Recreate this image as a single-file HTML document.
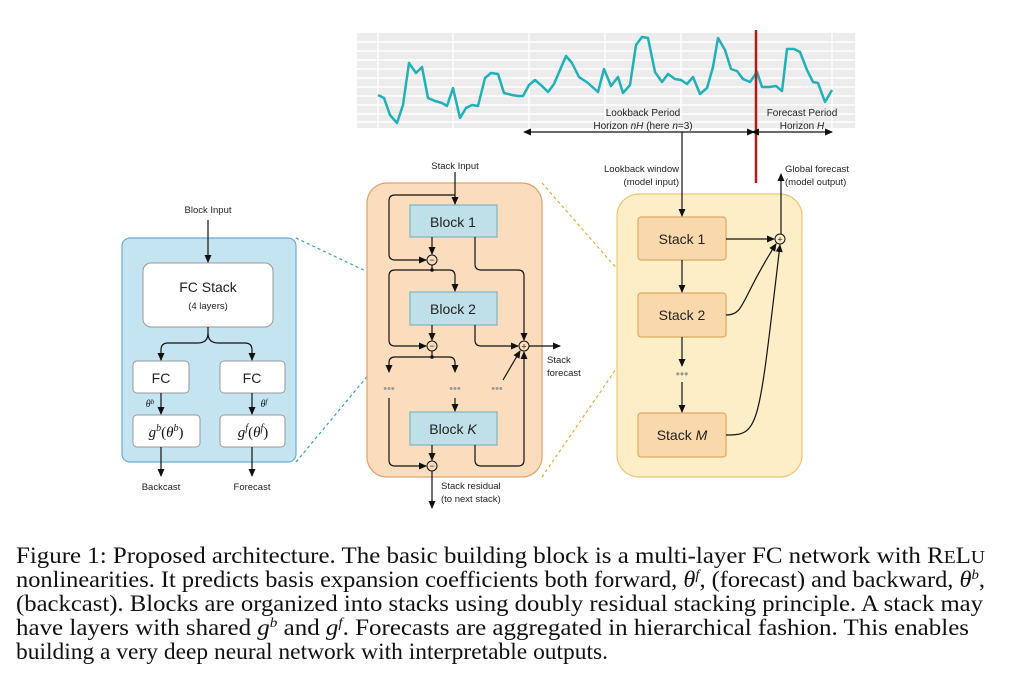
<!DOCTYPE html>
<html><head><meta charset="utf-8"><style>
html,body{margin:0;padding:0;background:#fff;}
svg{display:block;}
.s{font-family:"Liberation Sans",sans-serif;fill:#222;}
.c{font-family:"Liberation Serif",serif;font-size:23px;fill:#111;}
</style></head><body>
<svg width="1009" height="681" viewBox="0 0 1009 681" xmlns="http://www.w3.org/2000/svg">
<defs>
<marker id="a" markerWidth="8" markerHeight="8" refX="7" refY="4" orient="auto" markerUnits="userSpaceOnUse"><path d="M0,0.5 L8,4 L0,7.5 z" fill="#111"/></marker>
<marker id="as" markerWidth="8" markerHeight="8" refX="1" refY="4" orient="auto-start-reverse" markerUnits="userSpaceOnUse"><path d="M0,0.5 L8,4 L0,7.5 z" fill="#111"/></marker>
</defs>
<rect x="357" y="33" width="498" height="95" fill="#ececec"/>
<g stroke="#fff" stroke-width="1.5">
<line x1="357" y1="42" x2="855" y2="42"/><line x1="357" y1="51" x2="855" y2="51"/><line x1="357" y1="60" x2="855" y2="60"/><line x1="357" y1="69" x2="855" y2="69"/><line x1="357" y1="78" x2="855" y2="78"/><line x1="357" y1="87" x2="855" y2="87"/><line x1="357" y1="96" x2="855" y2="96"/><line x1="357" y1="105" x2="855" y2="105"/><line x1="357" y1="114" x2="855" y2="114"/><line x1="357" y1="122" x2="855" y2="122"/>
<line x1="378" y1="33" x2="378" y2="128"/><line x1="453" y1="33" x2="453" y2="128"/><line x1="529" y1="33" x2="529" y2="128"/><line x1="605" y1="33" x2="605" y2="128"/><line x1="681" y1="33" x2="681" y2="128"/><line x1="832" y1="33" x2="832" y2="128"/>
</g>
<polyline fill="none" stroke="#1fb0b8" stroke-width="2.5" stroke-linejoin="round" points="378,95 384,98 390,115 397,123 403,105 409,63 416,73 422,67 428,98 435,101 442,103 447,106 453,88 460,118 466,108 472,105 478,106 485,78 491,73 498,74 504,93 512,95 518,96 523,96 529,85 535,80 542,86 548,92 554,84 566,56 572,63 579,77 588,83 598,92 604,69 611,86 618,77 623,93 630,85 636,45 642,37 648,38 655,72 662,82 668,74 675,79 681,80 687,84 693,77 700,94 707,88 713,67 718,38 725,50 731,69 737,71 743,79 750,82 757,72 762,87 769,87 776,86 782,91 787,49 794,49 800,52 807,70 813,82 818,83 825,102 832,90"/>
<line x1="756" y1="30" x2="756" y2="183" stroke="#b01c1c" stroke-width="2.5"/>
<g class="s" font-size="10" text-anchor="middle">
<text x="643" y="116">Lookback Period</text>
<text x="643" y="129">Horizon <tspan font-style="italic">nH</tspan> (here <tspan font-style="italic">n</tspan>=3)</text>
<text x="802" y="116">Forecast Period</text>
<text x="802" y="129">Horizon <tspan font-style="italic">H</tspan></text>
</g>
<g stroke="#111" stroke-width="1.2" fill="none">
<line x1="530" y1="132" x2="754" y2="132" marker-start="url(#as)" marker-end="url(#a)"/>
<line x1="758" y1="132" x2="832" y2="132" marker-start="url(#as)" marker-end="url(#a)"/>
</g>
<g class="s" font-size="9.5">
<text x="679" y="172" text-anchor="end">Lookback window</text>
<text x="679" y="185" text-anchor="end">(model input)</text>
<text x="785" y="172">Global forecast</text>
<text x="785" y="185">(model output)</text>
</g>

<g fill="none" stroke-width="1.2" stroke-dasharray="3,3">
<line x1="296" y1="238" x2="410" y2="292" stroke="#3a9cc0"/>
<line x1="296" y1="462" x2="410" y2="325" stroke="#3a9cc0"/>
<line x1="542" y1="183" x2="638" y2="293" stroke="#e8a830"/>
<line x1="542" y1="477" x2="638" y2="337" stroke="#e8a830"/>
</g>

<rect x="617" y="194" width="185" height="283" rx="22" fill="#fdeec8" stroke="#ebc877" stroke-width="1.2"/>
<g fill="#f9d9ab" stroke="#e0a862" stroke-width="1.2">
<rect x="638" y="217" width="88" height="43" rx="3"/>
<rect x="638" y="293" width="88" height="44" rx="3"/>
<rect x="638" y="413" width="88" height="44" rx="3"/>
</g>
<g class="s" font-size="14" text-anchor="middle">
<text x="682" y="244">Stack 1</text>
<text x="682" y="320">Stack 2</text>
<text x="682" y="440">Stack <tspan font-style="italic">M</tspan></text>
</g>
<text x="682" y="378" class="s" font-size="12" text-anchor="middle" style="fill:#999">•••</text>
<g stroke="#111" stroke-width="1.2" fill="none">
<line x1="682" y1="132" x2="682" y2="216" marker-end="url(#a)"/>
<line x1="682" y1="260" x2="682" y2="292" marker-end="url(#a)"/>
<line x1="682" y1="337" x2="682" y2="366" marker-end="url(#a)"/>
<line x1="682" y1="382" x2="682" y2="412" marker-end="url(#a)"/>
<line x1="726" y1="239" x2="774" y2="239" marker-end="url(#a)"/>
<path d="M726,315 C745,315 740,300 776,244" marker-end="url(#a)"/>
<path d="M726,435 C760,435 758,430 780,245" marker-end="url(#a)"/>
<line x1="781" y1="234" x2="781" y2="174" marker-end="url(#a)"/>
</g>
<circle cx="780" cy="239" r="5" fill="#fdeec8" stroke="#111" stroke-width="1"/>
<text x="780" y="242.5" class="s" font-size="9" text-anchor="middle">+</text>

<rect x="367" y="183" width="175" height="294" rx="20" fill="#fbdcbc" stroke="#e0a26c" stroke-width="1.2"/>
<g fill="#bfe0e8" stroke="#7fb3c3" stroke-width="1.2">
<rect x="410" y="205" width="87" height="32"/>
<rect x="410" y="292" width="87" height="33"/>
<rect x="410" y="412" width="87" height="33"/>
</g>
<g class="s" font-size="14" text-anchor="middle">
<text x="453" y="227">Block 1</text>
<text x="453" y="314">Block 2</text>
<text x="453" y="434">Block <tspan font-style="italic">K</tspan></text>
</g>
<text x="455" y="169" class="s" font-size="9.5" text-anchor="middle">Stack Input</text>
<g stroke="#111" stroke-width="1.2" fill="none">
<line x1="455" y1="172" x2="455" y2="204" marker-end="url(#a)"/>
<path d="M455,195 H395 Q389,195 389,201 V254 Q389,260 395,260 H426" marker-end="url(#a)"/>
<line x1="432" y1="237" x2="432" y2="254" marker-end="url(#a)"/>
<path d="M475,237 V264 Q475,270 481,270 H518 Q524,270 524,276 V340" marker-end="url(#a)"/>
<path d="M432,265 V270 H449 Q455,270 455,276 V291" marker-end="url(#a)"/>
<path d="M432,270 H395 Q389,270 389,276 V340 Q389,346 395,346 H426" marker-end="url(#a)"/>
<line x1="432" y1="325" x2="432" y2="340" marker-end="url(#a)"/>
<path d="M475,325 V340 Q475,346 481,346 H518" marker-end="url(#a)"/>
<path d="M432,351 V357 H395 Q389,357 389,363 V372" marker-end="url(#a)"/>
<path d="M432,357 H449 Q455,357 455,363 V372" marker-end="url(#a)"/>
<line x1="503" y1="380" x2="520" y2="351" marker-end="url(#a)"/>
<line x1="455" y1="398" x2="455" y2="411" marker-end="url(#a)"/>
<path d="M389,398 V460 Q389,466 395,466 H426" marker-end="url(#a)"/>
<line x1="432" y1="445" x2="432" y2="460" marker-end="url(#a)"/>
<path d="M475,445 V460 Q475,466 481,466 H518 Q524,466 524,460 V352" marker-end="url(#a)"/>
<line x1="529" y1="346" x2="560" y2="346" marker-end="url(#a)"/>
<line x1="432" y1="471" x2="432" y2="508" marker-end="url(#a)"/>
</g>
<circle cx="432" cy="270" r="1.8" fill="#111"/><circle cx="432" cy="357" r="1.8" fill="#111"/>
<g fill="#fbdcbc" stroke="#111" stroke-width="1">
<circle cx="432" cy="260" r="5"/><circle cx="432" cy="346" r="5"/><circle cx="432" cy="466" r="5"/><circle cx="524" cy="346" r="5"/>
</g>
<g class="s" font-size="9" text-anchor="middle">
<text x="432" y="263">−</text><text x="432" y="349">−</text><text x="432" y="469">−</text><text x="524" y="349.5">+</text>
</g>
<g font-family="Liberation Sans,sans-serif" font-size="11" fill="#999" text-anchor="middle">
<text x="389" y="392">•••</text><text x="455" y="392">•••</text><text x="497" y="392">•••</text>
</g>
<g class="s" font-size="9.5">
<text x="547" y="363">Stack</text><text x="547" y="376">forecast</text>
<text x="441" y="489">Stack residual</text><text x="441" y="502">(to next stack)</text>
</g>

<rect x="122" y="238" width="174" height="224" rx="8" fill="#c5e4f2" stroke="#6aaed0" stroke-width="1.2"/>
<g fill="#fff" stroke="#999" stroke-width="1">
<rect x="143" y="263" width="130" height="64" rx="8"/>
<rect x="133" y="361" width="56" height="32" rx="4"/>
<rect x="220" y="361" width="65" height="32" rx="4"/>
<rect x="133" y="415" width="67" height="32" rx="4"/>
<rect x="220" y="415" width="65" height="32" rx="4"/>
</g>
<g class="s" text-anchor="middle">
<text x="208" y="213" font-size="9.5">Block Input</text>
<text x="208" y="292" font-size="14">FC Stack</text>
<text x="208" y="309" font-size="9.5">(4 layers)</text>
<text x="161" y="383" font-size="14">FC</text>
<text x="252" y="383" font-size="14">FC</text>
<text x="161" y="490" font-size="9.5">Backcast</text>
<text x="252" y="490" font-size="9.5">Forecast</text>
</g>
<g font-family="Liberation Serif,serif" font-style="italic" fill="#111" text-anchor="middle">
<text x="166" y="437" font-size="15">g<tspan font-size="10" dy="-6">b</tspan><tspan dy="6" font-style="normal">(</tspan>θ<tspan font-size="10" dy="-6">b</tspan><tspan dy="6" font-style="normal">)</tspan></text>
<text x="253" y="437" font-size="15">g<tspan font-size="10" dy="-6">f</tspan><tspan dy="6" font-style="normal">(</tspan>θ<tspan font-size="10" dy="-6">f</tspan><tspan dy="6" font-style="normal">)</tspan></text>
<text x="150" y="407" font-size="10">θ<tspan font-size="7" dy="-3">b</tspan></text>
<text x="264" y="407" font-size="10">θ<tspan font-size="7" dy="-3">f</tspan></text>
</g>
<g stroke="#111" stroke-width="1.2" fill="none">
<line x1="208" y1="220" x2="208" y2="262" marker-end="url(#a)"/>
<path d="M208,327 V333 Q208,343 198,343 H168 Q161,343 161,350 V360" marker-end="url(#a)"/>
<path d="M208,333 Q208,343 218,343 H245 Q252,343 252,350 V360" marker-end="url(#a)"/>
<line x1="161" y1="393" x2="161" y2="414" marker-end="url(#a)"/>
<line x1="252" y1="393" x2="252" y2="414" marker-end="url(#a)"/>
<line x1="161" y1="447" x2="161" y2="476" marker-end="url(#a)"/>
<line x1="252" y1="447" x2="252" y2="476" marker-end="url(#a)"/>
</g>

<g class="c">
<text x="16" y="563" textLength="969" lengthAdjust="spacingAndGlyphs">Figure 1: Proposed architecture. The basic building block is a multi-layer FC network with R<tspan font-size="18">E</tspan>L<tspan font-size="18">U</tspan></text>
<text x="16" y="587" textLength="969" lengthAdjust="spacingAndGlyphs">nonlinearities. It predicts basis expansion coefficients both forward, <tspan font-style="italic">θ</tspan><tspan font-size="14" dy="-8" font-style="italic">f</tspan><tspan dy="8">, (forecast) and backward, </tspan><tspan font-style="italic">θ</tspan><tspan font-size="14" dy="-8" font-style="italic">b</tspan><tspan dy="8">,</tspan></text>
<text x="16" y="611" textLength="967" lengthAdjust="spacingAndGlyphs">(backcast). Blocks are organized into stacks using doubly residual stacking principle. A stack may</text>
<text x="16" y="635" textLength="953" lengthAdjust="spacingAndGlyphs">have layers with shared <tspan font-style="italic">g</tspan><tspan font-size="14" dy="-8" font-style="italic">b</tspan><tspan dy="8"> and </tspan><tspan font-style="italic">g</tspan><tspan font-size="14" dy="-8" font-style="italic">f</tspan><tspan dy="8">. Forecasts are aggregated in hierarchical fashion. This enables</tspan></text>
<text x="16" y="659" textLength="592" lengthAdjust="spacingAndGlyphs">building a very deep neural network with interpretable outputs.</text>
</g>
</svg>
</body></html>
